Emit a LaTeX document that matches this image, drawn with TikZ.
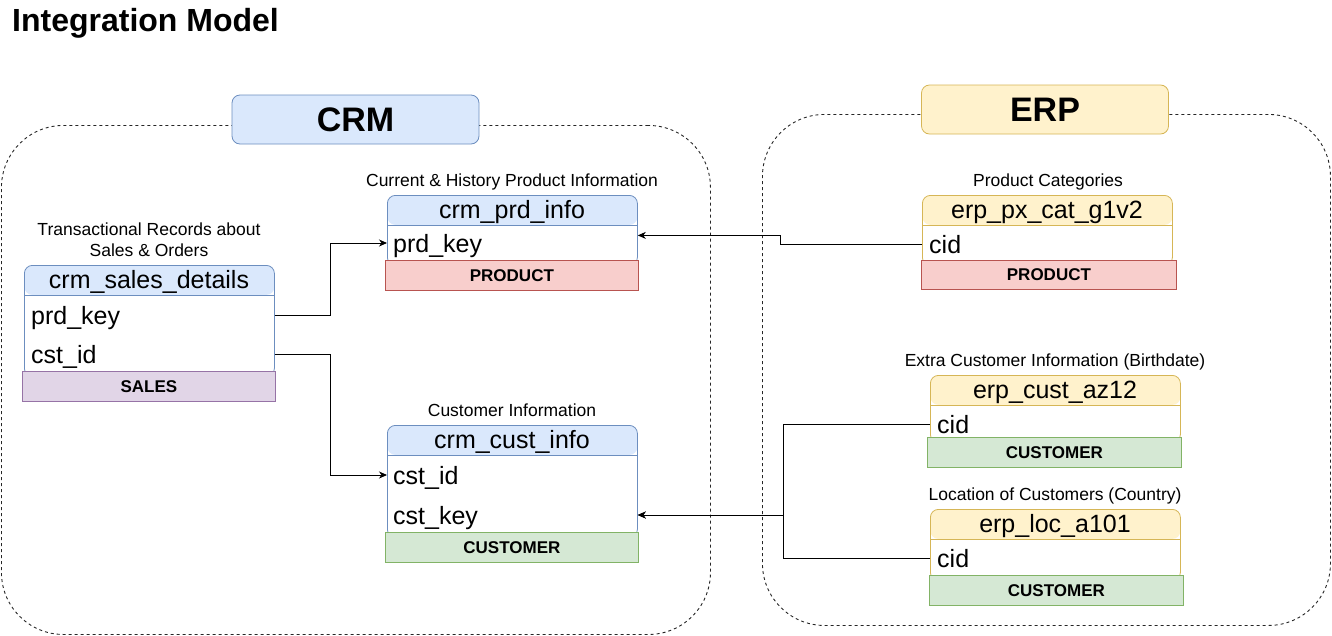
\documentclass[tikz,border=0pt]{standalone}
\usepackage{fontspec}
\setmainfont{Liberation Sans}
\usetikzlibrary{arrows.meta}
\definecolor{bluefill}{HTML}{DAE8FC}
\definecolor{bluedraw}{HTML}{6C8EBF}
\definecolor{yelfill}{HTML}{FFF2CC}
\definecolor{yeldraw}{HTML}{D6B656}
\definecolor{redfill}{HTML}{F8CECC}
\definecolor{reddraw}{HTML}{B85450}
\definecolor{purfill}{HTML}{E1D5E7}
\definecolor{purdraw}{HTML}{9673A6}
\definecolor{grnfill}{HTML}{D5E8D4}
\definecolor{grndraw}{HTML}{82B366}
\tikzset{
  container/.style={draw=black!85, dash pattern=on 3pt off 3pt, line width=0.9pt, rounded corners=62pt, anchor=north west, inner sep=0pt},
  titlebox/.style={draw=#1draw, fill=#1fill, rounded corners=8pt, line width=0.8pt, minimum width=247pt, minimum height=49pt, inner sep=0pt, font=\fontsize{34}{40}\selectfont\bfseries},
  tablebox/.style={draw=#1draw, fill=white, rounded corners=8pt, line width=0.8pt, anchor=north west, inner sep=0pt, minimum width=250pt,
    path picture={\fill[#1fill] (path picture bounding box.north west) rectangle ([yshift=-29.5pt]path picture bounding box.north east);
      \draw[#1draw, line width=0.8pt] ([yshift=-29.5pt]path picture bounding box.north west) -- ([yshift=-29.5pt]path picture bounding box.north east);}},
  hdrtext/.style={anchor=base, inner sep=0pt, font=\fontsize{25}{30}\selectfont},
  rowtext/.style={anchor=west, inner sep=0pt, text height=19pt, text depth=0pt, font=\fontsize{25}{30}\selectfont},
  caption/.style={anchor=base, inner sep=0pt, font=\fontsize{17.5}{21}\selectfont, align=center},
  tag/.style={draw=#1draw, fill=#1fill, line width=0.8pt, anchor=north west, inner sep=0pt, minimum height=30pt, font=\fontsize{17}{20}\selectfont\bfseries},
  arr/.style={draw=black, line width=0.9pt, -{Stealth[length=8pt, width=7pt, inset=2.5pt]}},
}
\begin{document}
\begin{tikzpicture}[x=1pt, y=-1pt]
\useasboundingbox (0,0) rectangle (1332,635);
\node[anchor=base west, inner sep=0pt, font=\fontsize{32}{38}\selectfont\bfseries] (title) at (12,31) {Integration Model};

% containers
\node[container, minimum width=709pt, minimum height=509pt] (crmarea) at (1,125) {};
\node[container, minimum width=568pt, minimum height=511pt] (erparea) at (762,114) {};
\node[titlebox=blue] (crmtitle) at (355.5,119.5) {CRM};
\node[titlebox=yel] (erptitle) at (1045,109.5) {ERP};

% tables
\node[tablebox=blue, minimum height=70pt] (tpi) at (387,195) {};
\node[tablebox=blue, minimum height=111pt] (tsd) at (24,265) {};
\node[tablebox=blue, minimum height=112pt] (tci) at (387,425) {};
\node[tablebox=yel, minimum height=70pt] (tpx) at (922,195) {};
\node[tablebox=yel, minimum height=67pt] (taz) at (930,375) {};
\node[tablebox=yel, minimum height=71pt] (tloc) at (930,509) {};

% headers
\node[hdrtext] (hpi) at (512,218) {crm\_prd\_info};
\node[hdrtext] (hsd) at (149,288) {crm\_sales\_details};
\node[hdrtext] (hci) at (512,448) {crm\_cust\_info};
\node[hdrtext] (hpx) at (1047,218) {erp\_px\_cat\_g1v2};
\node[hdrtext] (haz) at (1055,398) {erp\_cust\_az12};
\node[hdrtext] (hloc) at (1055,532) {erp\_loc\_a101};

% rows
\node[rowtext] (rpiprd) at (393,243) {prd\_key};
\node[rowtext] (rsdprd) at (31,315) {prd\_key};
\node[rowtext] (rsdcst) at (31,354) {cst\_id};
\node[rowtext] (rcicst) at (393,475) {cst\_id};
\node[rowtext] (rcikey) at (393,515) {cst\_key};
\node[rowtext] (rpxcid) at (929,244) {cid};
\node[rowtext] (razcid) at (937,424) {cid};
\node[rowtext] (rloccid) at (937,558) {cid};

% tags
\node[tag=red, minimum width=253pt] (gpi) at (385,260) {PRODUCT};
\node[tag=pur, minimum width=253pt] (gsd) at (22,371) {SALES};
\node[tag=grn, minimum width=253pt] (gci) at (385,532) {CUSTOMER};
\node[tag=red, minimum width=255pt, minimum height=29pt] (gpx) at (921,260) {PRODUCT};
\node[tag=grn, minimum width=254pt] (gaz) at (927,437) {CUSTOMER};
\node[tag=grn, minimum width=254pt] (gloc) at (929,575) {CUSTOMER};

% captions
\node[caption] (cpi) at (512,186) {Current \& History Product Information};
\node[caption, anchor=center] (csd) at (149,240) {Transactional Records about\\Sales \& Orders};
\node[caption] (cci) at (512,416) {Customer Information};
\node[caption] (cpx) at (1048,186) {Product Categories};
\node[caption] (caz) at (1055,366) {Extra Customer Information (Birthdate)};
\node[caption] (cloc) at (1055,500) {Location of Customers (Country)};

% connectors
\draw[arr] (tsd.east |- rsdprd.west) -- ++(56,0) |- (tpi.west |- rpiprd.west);
\draw[arr] (tsd.east |- rsdcst.west) -- ++(56,0) |- (tci.west |- rcicst.west);
\draw[arr] (tpx.west |- rpxcid.west) -- ++(-142,0) |- ([yshift=-5pt]tpi.east);
\draw[arr] (taz.west |- razcid.west) -- ++(-147,0) |- (tci.east |- rcikey.west);
\draw[arr] (tloc.west |- rloccid.west) -- ++(-147,0) |- (tci.east |- rcikey.west);
\end{tikzpicture}
\end{document}
